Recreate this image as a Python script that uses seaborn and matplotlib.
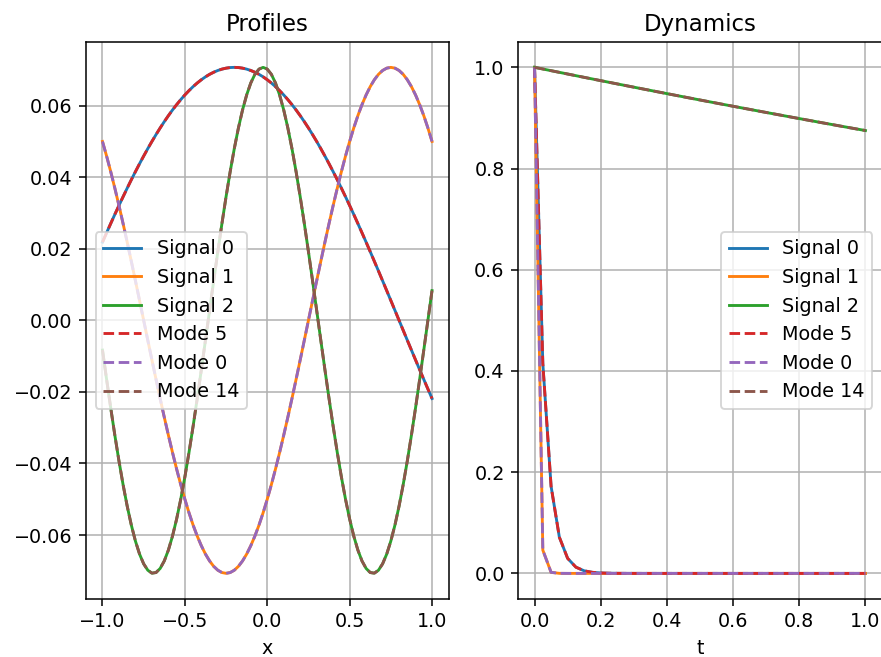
import matplotlib
matplotlib.use("Agg")
import matplotlib.pyplot as plt
import seaborn as sns

# Spatial grid and mode profiles
x = [-1.000, -0.975, -0.950, -0.925, -0.900, -0.875, -0.850, -0.825, -0.800, -0.775,
     -0.750, -0.725, -0.700, -0.675, -0.650, -0.625, -0.600, -0.575, -0.550, -0.525,
     -0.500, -0.475, -0.450, -0.425, -0.400, -0.375, -0.350, -0.325, -0.300, -0.275,
     -0.250, -0.225, -0.200, -0.175, -0.150, -0.125, -0.100, -0.075, -0.050, -0.025,
     0.000, 0.025, 0.050, 0.075, 0.100, 0.125, 0.150, 0.175, 0.200, 0.225,
     0.250, 0.275, 0.300, 0.325, 0.350, 0.375, 0.400, 0.425, 0.450, 0.475,
     0.500, 0.525, 0.550, 0.575, 0.600, 0.625, 0.650, 0.675, 0.700, 0.725,
     0.750, 0.775, 0.800, 0.825, 0.850, 0.875, 0.900, 0.925, 0.950, 0.975, 1.000]

profile_0 = [0.02185, 0.02447, 0.02706, 0.02961, 0.03210, 0.03455, 0.03694, 0.03929, 0.04156, 0.04378,
             0.04592, 0.04800, 0.05000, 0.05192, 0.05377, 0.05553, 0.05721, 0.05880, 0.06029, 0.06169,
             0.06300, 0.06421, 0.06533, 0.06634, 0.06725, 0.06806, 0.06876, 0.06935, 0.06984, 0.07022,
             0.07049, 0.07066, 0.07071, 0.07066, 0.07049, 0.07022, 0.06984, 0.06935, 0.06876, 0.06806,
             0.06725, 0.06634, 0.06533, 0.06421, 0.06300, 0.06169, 0.06029, 0.05880, 0.05721, 0.05553,
             0.05377, 0.05192, 0.05000, 0.04800, 0.04592, 0.04378, 0.04156, 0.03929, 0.03694, 0.03455,
             0.03210, 0.02961, 0.02706, 0.02447, 0.02185, 0.01919, 0.01650, 0.01380, 0.01106, 0.00831,
             0.00555, 0.00278, 0.00000, -0.00278, -0.00555, -0.00831, -0.01106, -0.01380, -0.01650, -0.01919,
             -0.02185]

profile_1 = [0.05000, 0.04592, 0.04156, 0.03694, 0.03210, 0.02706, 0.02185, 0.01650, 0.01106, 0.00555,
             0.00000, -0.00555, -0.01106, -0.01650, -0.02185, -0.02706, -0.03210, -0.03694, -0.04156, -0.04592,
             -0.05000, -0.05377, -0.05721, -0.06029, -0.06300, -0.06533, -0.06725, -0.06876, -0.06984, -0.07049,
             -0.07071, -0.07049, -0.06984, -0.06876, -0.06725, -0.06533, -0.06300, -0.06029, -0.05721, -0.05377,
             -0.05000, -0.04592, -0.04156, -0.03694, -0.03210, -0.02706, -0.02185, -0.01650, -0.01106, -0.00555,
             0.00000, 0.00555, 0.01106, 0.01650, 0.02185, 0.02706, 0.03210, 0.03694, 0.04156, 0.04592,
             0.05000, 0.05377, 0.05721, 0.06029, 0.06300, 0.06533, 0.06725, 0.06876, 0.06984, 0.07049,
             0.07071, 0.07049, 0.06984, 0.06876, 0.06725, 0.06533, 0.06300, 0.06029, 0.05721, 0.05377,
             0.05000]

profile_2 = [-0.00831, -0.01650, -0.02447, -0.03210, -0.03929, -0.04592, -0.05192, -0.05721, -0.06169, -0.06533,
             -0.06806, -0.06984, -0.07066, -0.07049, -0.06935, -0.06725, -0.06421, -0.06029, -0.05553, -0.05000,
             -0.04378, -0.03694, -0.02961, -0.02185, -0.01380, -0.00555, 0.00278, 0.01106, 0.01919, 0.02706,
             0.03455, 0.04156, 0.04800, 0.05377, 0.05880, 0.06300, 0.06634, 0.06876, 0.07022, 0.07071,
             0.07022, 0.06876, 0.06634, 0.06300, 0.05880, 0.05377, 0.04800, 0.04156, 0.03455, 0.02706,
             0.01919, 0.01106, 0.00278, -0.00555, -0.01380, -0.02185, -0.02961, -0.03694, -0.04378, -0.05000,
             -0.05553, -0.06029, -0.06421, -0.06725, -0.06935, -0.07049, -0.07066, -0.06984, -0.06806, -0.06533,
             -0.06169, -0.05721, -0.05192, -0.04592, -0.03929, -0.03210, -0.02447, -0.01650, -0.00831, 0.00000,
             0.00831]

# Time grid and mode dynamics
t = [0.000, 0.025, 0.050, 0.075, 0.100, 0.125, 0.150, 0.175, 0.200, 0.225,
     0.250, 0.275, 0.300, 0.325, 0.350, 0.375, 0.400, 0.425, 0.450, 0.475,
     0.500, 0.525, 0.550, 0.575, 0.600, 0.625, 0.650, 0.675, 0.700, 0.725,
     0.750, 0.775, 0.800, 0.825, 0.850, 0.875, 0.900, 0.925, 0.950, 0.975, 1.000]

dynamics_0 = [1.0, 0.415, 0.172, 0.0715, 0.0297, 0.0123, 0.0051, 0.0021, 0.00088, 0.00037,
              0.00015, 0.00006, 0.00003, 0.00001, 0.0, 0.0, 0.0, 0.0, 0.0, 0.0,
              0.0, 0.0, 0.0, 0.0, 0.0, 0.0, 0.0, 0.0, 0.0, 0.0,
              0.0, 0.0, 0.0, 0.0, 0.0, 0.0, 0.0, 0.0, 0.0, 0.0, 0.0]

dynamics_1 = [1.0, 0.046, 0.0021, 0.0001, 0.0, 0.0, 0.0, 0.0, 0.0, 0.0,
              0.0, 0.0, 0.0, 0.0, 0.0, 0.0, 0.0, 0.0, 0.0, 0.0,
              0.0, 0.0, 0.0, 0.0, 0.0, 0.0, 0.0, 0.0, 0.0, 0.0,
              0.0, 0.0, 0.0, 0.0, 0.0, 0.0, 0.0, 0.0, 0.0, 0.0, 0.0]

dynamics_2 = [1.00000, 0.99667, 0.99335, 0.99004, 0.98674, 0.98345, 0.98017, 0.97691,
              0.97365, 0.97041, 0.96718, 0.96395, 0.96074, 0.95754, 0.95435, 0.95117,
              0.94800, 0.94484, 0.94169, 0.93855, 0.93543, 0.93231, 0.92920, 0.92611,
              0.92302, 0.91995, 0.91688, 0.91383, 0.91078, 0.90775, 0.90473, 0.90171,
              0.89871, 0.89571, 0.89273, 0.88975, 0.88679, 0.88383, 0.88089, 0.87795,
              0.87503]

signal_labels = ["Signal 0", "Signal 1", "Signal 2"]
mode_labels = ["Mode 5", "Mode 0", "Mode 14"]
signal_colors = ["#1f77b4", "#ff7f0e", "#2ca02c"]
mode_colors = ["#d62728", "#9467bd", "#8c564b"]

profiles = [profile_0, profile_1, profile_2]
dynamics = [dynamics_0, dynamics_1, dynamics_2]

dpi = 137.5
fig = plt.figure(figsize=(881 / dpi, 657 / dpi), dpi=dpi)
ax_p = fig.add_axes([86 / 881, 1 - 598.7 / 657, 362.5 / 881, 556.7 / 657])
ax_d = fig.add_axes([518 / 881, 1 - 598.7 / 657, 364 / 881, 556.7 / 657])


def draw_panel(ax, xs, series, xlabel, title, legend_loc):
    for ys, lab, col in zip(series, signal_labels, signal_colors):
        sns.lineplot(x=xs, y=ys, ax=ax, color=col, label=lab, linewidth=1.5)
    for ys, lab, col in zip(series, mode_labels, mode_colors):
        sns.lineplot(x=xs, y=ys, ax=ax, color=col, label=lab,
                     linewidth=1.5, linestyle="--")
    ax.set_title(title, fontsize=12)
    ax.set_xlabel(xlabel)
    ax.set_ylabel("")
    ax.grid(True, color="#b0b0b0", linewidth=0.8)
    ax.set_axisbelow(True)
    ax.legend(loc=legend_loc)


draw_panel(ax_p, x, profiles, "x", "Profiles", "center left")
ax_p.set_xlim(-1.1, 1.1)
ax_p.set_ylim(-0.0778, 0.0778)
ax_p.set_xticks([-1.0, -0.5, 0.0, 0.5, 1.0])
ax_p.set_yticks([-0.06, -0.04, -0.02, 0.00, 0.02, 0.04, 0.06])

draw_panel(ax_d, t, dynamics, "t", "Dynamics", "center right")
ax_d.set_xlim(-0.05, 1.05)
ax_d.set_ylim(-0.05, 1.05)
ax_d.set_xticks([0.0, 0.2, 0.4, 0.6, 0.8, 1.0])
ax_d.set_yticks([0.0, 0.2, 0.4, 0.6, 0.8, 1.0])

fig.savefig("out.png", dpi=dpi)
